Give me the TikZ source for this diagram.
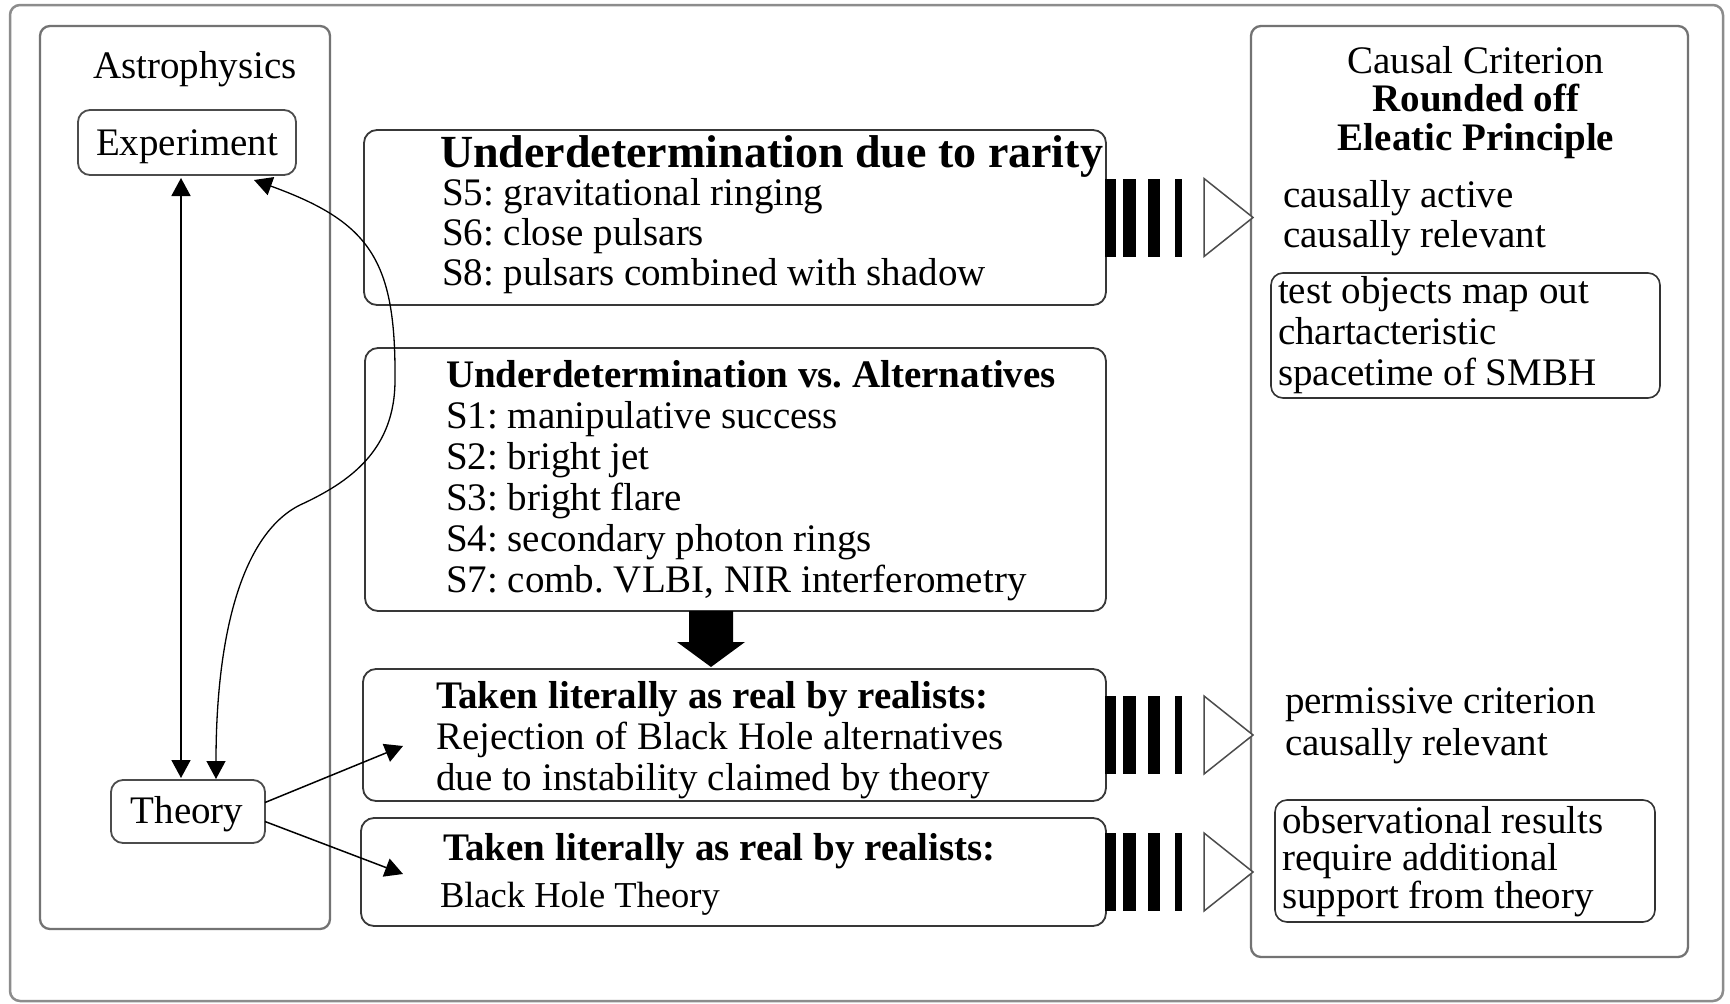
\documentclass[tikz,border=0pt]{standalone}
\usepackage{fontspec}
\setmainfont{Liberation Serif}
\usetikzlibrary{arrows.meta}
\frenchspacing

% left-aligned / centred stacks of lines with a given line distance
\newcommand\linesl[2]{{\fontsize{39}{#1}\selectfont\begin{tabular}[t]{@{}l@{}}#2\end{tabular}}}
\newcommand\linesc[2]{{\fontsize{39}{#1}\selectfont\begin{tabular}[t]{@{}c@{}}#2\end{tabular}}}

% striped arrow with an open head, starting at a box's east anchor
\newcommand\stripearrow[1]{%
  \begin{scope}[shift={(#1)}]
    \fill (-1,-39) rectangle (10,39);
    \fill (17,-39) rectangle (30,39);
    \fill (42,-39) rectangle (54,39);
    \fill (69,-39) rectangle (76,39);
    \draw[openhead] (98,-39) -- (147,0) -- (98,39) -- cycle;
  \end{scope}}

\begin{document}
\begin{tikzpicture}[x=1pt,y=-1pt,
  boxbase/.style={shape=rectangle, anchor=north west, inner sep=0pt, outer sep=0pt},
  framebox/.style={boxbase, draw=black!45, line width=2.5pt, rounded corners=10pt},
  panel/.style={boxbase, draw=black!55, line width=2.3pt, rounded corners=10pt},
  midbox/.style={boxbase, draw=black!78, line width=1.8pt, rounded corners=13pt},
  smallbox/.style={boxbase, draw=black!70, line width=1.8pt, rounded corners=12pt},
  notebox/.style={boxbase, draw=black!80, line width=1.6pt, rounded corners=12pt},
  txt/.style={inner sep=0pt, outer sep=0pt, font=\fontsize{39}{40}\selectfont},
  openhead/.style={draw=black!70, fill=white, line width=1.5pt, line join=miter},
  arr/.style={line width=1.5pt, -{Triangle[length=18pt,width=19pt]}},
  darr/.style={line width=1.5pt, {Triangle[length=18pt,width=19pt]}-{Triangle[length=18pt,width=19pt]}},
]
\useasboundingbox (0,0) rectangle (1730,1004);
\fill[white] (0,0) rectangle (1730,1004);

% frames and panels
\node[framebox, minimum width=1713pt, minimum height=996pt] (frame) at (10,5) {};
\node[panel, minimum width=290pt, minimum height=903pt] (astro) at (40,26) {};
\node[panel, minimum width=437pt, minimum height=931pt] (causal) at (1251,26) {};

% left panel
\node[txt, anchor=base] (astrot) at (195,78) {Astrophysics};
\node[smallbox, minimum width=218pt, minimum height=65pt] (exp) at (78,110) {};
\node[txt, anchor=base] (expt) at (187,155) {Experiment};
\node[smallbox, minimum width=154pt, minimum height=63pt] (the) at (111,780) {};
\node[txt, anchor=base] (thet) at (187,823) {Theory};

% middle boxes
\node[midbox, minimum width=742pt, minimum height=175pt] (u1) at (364,130) {};
\node[midbox, minimum width=741pt, minimum height=263pt] (u2) at (365,348) {};
\node[midbox, minimum width=743pt, minimum height=132pt] (t1) at (363,669) {};
\node[midbox, minimum width=745pt, minimum height=108pt] (t2) at (361,818) {};

\node[txt, anchor=base west] (u1h) at (440,167)
  {\fontsize{46}{48}\selectfont\bfseries Underdetermination due to rarity};
\node[txt, anchor=base west] (u1b) at (442,205)
  {\linesl{40}{S5: gravitational ringing\\ S6: close pulsars\\ S8: pulsars combined with shadow}};
\node[txt, anchor=base west] (u2b) at (446,387)
  {\linesl{41}{\textbf{Underdetermination vs. Alternatives}\\ S1: manipulative success\\ S2: bright jet\\
   S3: bright flare\\ S4: secondary photon rings\\ S7: comb. VLBI, NIR interferometry}};
\node[txt, anchor=base west] (t1b) at (436,708)
  {\linesl{41}{\textbf{Taken literally as real by realists:}\\ Rejection of Black Hole alternatives\\
   due to instability claimed by theory}};
\node[txt, anchor=base west] (t2h) at (443,860) {\bfseries Taken literally as real by realists:};
\node[txt, anchor=base west, font=\fontsize{36.5}{40}\selectfont] (t2b) at (440,907) {Black Hole Theory};

% right panel
\node[txt, anchor=base] (causalt) at (1476,73)
  {\linesc{37.5}{Causal Criterion\\ \textbf{Rounded off}\\ \textbf{Eleatic Principle}}};
\node[txt, anchor=base west] (act) at (1283,207) {\linesl{40}{causally active\\ causally relevant}};
\node[notebox, minimum width=389pt, minimum height=125pt] (obj) at (1271,273) {};
\node[txt, anchor=base west] (objt) at (1278,303)
  {\linesl{41}{test objects map out\\ chartacteristic\\ spacetime of SMBH}};
\node[txt, anchor=base west] (perm) at (1285,713) {\linesl{42}{permissive criterion\\ causally relevant}};
\node[notebox, minimum width=380pt, minimum height=122pt] (obs) at (1275,800) {};
\node[txt, anchor=base west] (obst) at (1282,833)
  {\linesl{34.5}{observational results\\ require additional\\ support from theory}};

% block arrow between the two middle groups
\coordinate (dn) at ([xshift=-24.5pt]u2.south);
\fill (dn) ++(-22,0) -- ++(44,0) -- ++(0,31) -- ++(12,0) -- ++(-34,25)
  -- ++(-34,-25) -- ++(12,0) -- cycle;

% striped arrows into the causal panel
\stripearrow{u1.east}
\stripearrow{t1.east}
\stripearrow{t2.east}

% connectors
\coordinate (va) at ([xshift=-6pt,yshift=-3pt]exp.south);
\coordinate (vb) at ([yshift=2pt]the.north);
\draw[darr, line width=1.8pt] (va) -- (va |- vb);
\draw[darr, line width=1.3pt] ([xshift=-42pt,yshift=-5pt]exp.south east)
  .. controls (370,222) and (396,260) .. (395,380)
  .. controls (395,450) and (350,482) .. (300,505)
  .. controls (240,535) and (216,640) .. ([xshift=28pt,yshift=1pt]the.north);
\draw[arr] ([yshift=9pt]the.east) -- ([xshift=40pt,yshift=-11pt]t1.west);
\draw[arr] ([yshift=-10pt]the.east) -- ([xshift=42pt,yshift=-2pt]t2.west);
\end{tikzpicture}
\end{document}
